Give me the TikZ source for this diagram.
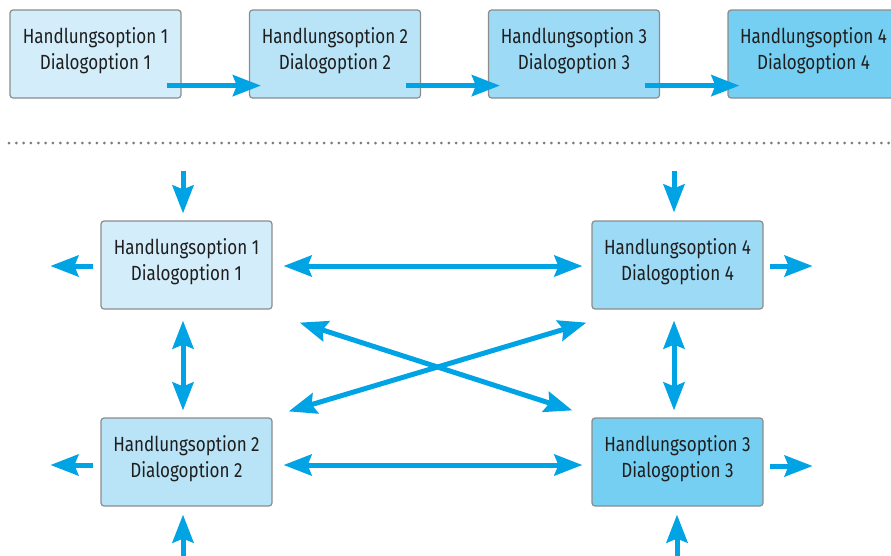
\documentclass[tikz,border=0pt]{standalone}
\usepackage{fontspec}
\setmainfont[FakeStretch=0.83]{Fira Sans}
\usetikzlibrary{arrows.meta}
\definecolor{tintA}{HTML}{D3EDFA}
\definecolor{tintB}{HTML}{B9E4F7}
\definecolor{tintC}{HTML}{9DDAF5}
\definecolor{tintD}{HTML}{75CFF2}
\definecolor{flow}{HTML}{00A3E4}
\definecolor{frame}{HTML}{8C8C8C}
\definecolor{dotgray}{HTML}{7A7A7A}
\definecolor{ink}{HTML}{1E1E1E}
\tikzset{
  optbox/.style={draw=frame, line width=1.2pt, rounded corners=3pt,
    minimum width=171pt, minimum height=88pt, inner sep=0pt,
    align=center, text=ink, text depth=11pt,
    font=\fontsize{20.5}{26}\selectfont},
  arr/.style={draw=flow, line width=5pt,
    -{Stealth[length=28pt, width=21pt, inset=4pt]}},
  darr/.style={draw=flow, line width=5pt,
    {Stealth[length=28pt, width=21pt, inset=4pt]}-{Stealth[length=28pt, width=21pt, inset=4pt]}},
  sep/.style={draw=dotgray, line width=3pt, line cap=round,
    dash pattern=on 0pt off 7.33pt}
}
\begin{document}
\begin{tikzpicture}[x=1pt, y=-1pt]
\useasboundingbox (0,0) rectangle (891,555);
\clip (0,0) rectangle (891,555);

% sequential chain
\node[optbox, fill=tintA] (t1) at (95.5,54) {Handlungsoption 1\\Dialogoption 1};
\node[optbox, fill=tintB] (t2) at (335,54) {Handlungsoption 2\\Dialogoption 2};
\node[optbox, fill=tintC] (t3) at (574,54) {Handlungsoption 3\\Dialogoption 3};
\node[optbox, fill=tintD] (t4) at (813.5,54) {Handlungsoption 4\\Dialogoption 4};

\draw[arr] ([xshift=-15pt,yshift=13pt]t1.south east) -- ([xshift=12pt,yshift=13pt]t2.south west);
\draw[arr] ([xshift=-15pt,yshift=13pt]t2.south east) -- ([xshift=12pt,yshift=13pt]t3.south west);
\draw[arr] ([xshift=-15pt,yshift=13pt]t3.south east) -- ([xshift=12pt,yshift=13pt]t4.south west);

% separator
\coordinate (sepL) at (9,143);
\coordinate (sepR) at (895,143);
\draw[sep] (sepL) -- (sepR);

% networked options
\node[optbox, fill=tintA] (b1) at (186.5,265) {Handlungsoption 1\\Dialogoption 1};
\node[optbox, fill=tintC] (b4) at (677.5,265) {Handlungsoption 4\\Dialogoption 4};
\node[optbox, fill=tintB] (b2) at (186.5,462) {Handlungsoption 2\\Dialogoption 2};
\node[optbox, fill=tintD] (b3) at (677.5,462) {Handlungsoption 3\\Dialogoption 3};

% incoming from above / below
\draw[arr] ([xshift=-3.5pt,yshift=49pt]b1.north) -- ([xshift=-3.5pt,yshift=7pt]b1.north);
\draw[arr] ([xshift=-3.5pt,yshift=49pt]b4.north) -- ([xshift=-3.5pt,yshift=8pt]b4.north);
\draw[arr] ([xshift=-3.5pt,yshift=-60pt]b2.south) -- ([xshift=-3.5pt,yshift=-8pt]b2.south);
\draw[arr] ([xshift=-0.5pt,yshift=-60pt]b3.south) -- ([xshift=-0.5pt,yshift=-8pt]b3.south);

% outgoing to the sides
\draw[arr] ([xshift=-7pt,yshift=-1pt]b1.west) -- ([xshift=-50pt,yshift=-1pt]b1.west);
\draw[arr] ([xshift=-7pt,yshift=-3pt]b2.west) -- ([xshift=-50pt,yshift=-3pt]b2.west);
\draw[arr] ([xshift=6pt,yshift=-1pt]b4.east) -- ([xshift=49pt,yshift=-1pt]b4.east);
\draw[arr] ([xshift=6pt,yshift=-4pt]b3.east) -- ([xshift=49pt,yshift=-4pt]b3.east);

% mutual links
\draw[darr] ([xshift=11pt,yshift=-1pt]b1.east) -- ([xshift=-9pt,yshift=-1pt]b4.west);
\draw[darr] ([xshift=11pt,yshift=-3pt]b2.east) -- ([xshift=-9pt,yshift=-3pt]b3.west);
\draw[darr] ([xshift=-3.5pt,yshift=-11pt]b1.south) -- ([xshift=-3.5pt,yshift=7pt]b2.north);
\draw[darr] ([xshift=-3.5pt,yshift=-11pt]b4.south) -- ([xshift=-3.5pt,yshift=7pt]b3.north);
\draw[darr] ([xshift=27pt,yshift=-13pt]b1.south east) -- ([xshift=-19pt,yshift=7pt]b3.north west);
\draw[darr] ([xshift=16pt,yshift=6pt]b2.north east) -- ([xshift=-5pt,yshift=-13pt]b4.south west);
\end{tikzpicture}
\end{document}
